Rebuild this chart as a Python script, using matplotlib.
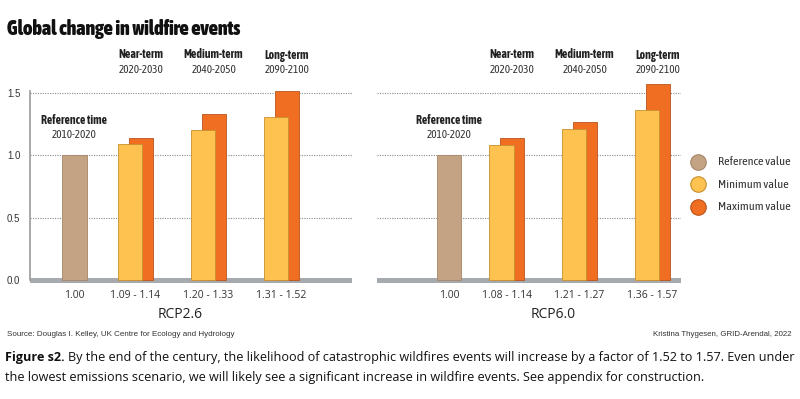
import matplotlib
matplotlib.use("Agg")
import matplotlib.pyplot as plt
from matplotlib import transforms

# ---- data ----
periods = ["Near-term", "Medium-term", "Long-term"]
period_years = ["2020-2030", "2040-2050", "2090-2100"]
ref_value = 1.00
rcp26_min = [1.09, 1.20, 1.31]
rcp26_max = [1.14, 1.33, 1.52]
rcp60_min = [1.08, 1.21, 1.36]
rcp60_max = [1.14, 1.27, 1.57]
scenarios = ["RCP2.6", "RCP6.0"]
yticks = [0.0, 0.5, 1.0, 1.5]
legend_labels = ["Reference value", "Minimum value", "Maximum value"]

C_REF = "#C4A385"
C_MIN = "#FDC250"
C_MAX = "#F06E22"
E_REF = "#A58668"
E_MIN = "#C8902E"
E_MAX = "#B9531B"
GRID = "#8A8A8A"
GROUND = "#A6AAAF"
TXT = "#333333"

NARROW = ["Asap Condensed", "Archivo Narrow", "DejaVu Sans"]
BODY = ["Open Sans", "DejaVu Sans"]
ARIAL = ["Liberation Sans", "DejaVu Sans"]

W, H = 800, 399
fig = plt.figure(figsize=(W / 100, H / 100), dpi=100)


def fx(x):
    return x / W


def fy(y):
    return 1 - y / H


# y mapping: 0 -> 280 px, 1.5 -> 93 px
per_px = 1.5 / (280 - 93)
ax_top, ax_bot = 80, 285
ylo = -(ax_bot - 280) * per_px
yhi = (280 - ax_top) * per_px

panels = [
    # left px, right px, xlim, ref x, mins, maxs
    (30, 352, (-0.445, 3.966), 0.164, rcp26_min, rcp26_max),
    (376.7, 681, (-0.78, 3.39), 0.21, rcp60_min, rcp60_max),
]

bw = 0.33
off = 0.07
groups = [1, 2, 3]

for i, (l, r, xl, xref, mins, maxs) in enumerate(panels):
    ax = fig.add_axes([fx(l), fy(ax_bot), (r - l) / W, (ax_bot - ax_top) / H])
    ax.set_xlim(*xl)
    ax.set_ylim(ylo, yhi)
    for s in ["top", "right", "bottom", "left"]:
        ax.spines[s].set_visible(False)
    ax.set_xticks([])
    if i == 0:
        ax.spines["left"].set_visible(True)
        ax.spines["left"].set_color("#9A9A9A")
        ax.spines["left"].set_linewidth(1.2)
        ax.spines["left"].set_bounds(0, 1.52)
        ax.set_yticks(yticks)
        ax.set_yticklabels([f"{v:.1f}" for v in yticks], fontsize=7,
                           color=TXT, family=ARIAL)
        ax.tick_params(axis="y", length=0, pad=7)
    else:
        ax.set_yticks([])

    for v in yticks[1:]:
        ax.axhline(v, color=GRID, lw=0.8, ls=(0, (1, 1.2)), zorder=1)
    ax.axhspan(-0.024, 0.02, color=GROUND, lw=0, zorder=2)

    ax.bar(xref, ref_value, width=bw, color=C_REF, edgecolor=E_REF,
           lw=0.6, zorder=3)
    ax.bar([g + off for g in groups], maxs, width=bw, color=C_MAX,
           edgecolor=E_MAX, lw=0.6, zorder=3)
    ax.bar([g - off for g in groups], mins, width=bw, color=C_MIN,
           edgecolor=E_MIN, lw=0.6, zorder=4)

    tr = transforms.blended_transform_factory(ax.transData, fig.transFigure)
    for g, p, yr in zip(groups, periods, period_years):
        ax.text(g + 0.07, fy(55), p, transform=tr, ha="center", va="center",
                fontsize=8.5, fontweight="bold", family=NARROW, color="#222222")
        ax.text(g + 0.07, fy(69.5), yr, transform=tr, ha="center",
                va="center", fontsize=8, family=NARROW, color=TXT)
    ax.text(xref, fy(120), "Reference time", transform=tr, ha="center",
            va="center", fontsize=8.5, fontweight="bold", family=NARROW,
            color="#222222")
    ax.text(xref, fy(134), "2010-2020", transform=tr, ha="center",
            va="center", fontsize=8, family=NARROW, color=TXT)

    ax.text(xref, fy(295), f"{ref_value:.2f}", transform=tr, ha="center",
            va="center", fontsize=7.5, family=BODY, color=TXT)
    for g, a, b in zip(groups, mins, maxs):
        ax.text(g, fy(295), f"{a:.2f} - {b:.2f}", transform=tr, ha="center",
                va="center", fontsize=7.5, family=BODY, color=TXT)
    ax.text((xref + groups[-1] + off) / 2, fy(315), scenarios[i],
            transform=tr, ha="center", va="center", fontsize=10,
            family=BODY, color="#222222")

    if i == 1:
        for k, (lab, c, e) in enumerate(zip(legend_labels,
                                            [C_REF, C_MIN, C_MAX],
                                            [E_REF, E_MIN, E_MAX])):
            yy = fy(161.7 + k * 22.5)
            ax.scatter([fx(697.7)], [yy], s=125, color=c, edgecolor=e,
                       lw=0.8, transform=fig.transFigure, clip_on=False,
                       zorder=5)
            fig.text(fx(718), yy, lab, ha="left", va="center", fontsize=8.8,
                     family=NARROW, color=TXT)

fig.text(fx(7), fy(29), "Global change in wildfire events", ha="left",
         va="center", fontsize=14.3, fontweight=900, family=NARROW,
         color="#111111")

fig.text(fx(7), fy(335), "Source: Douglas I. Kelley, UK Centre for Ecology and Hydrology",
         ha="left", va="center", fontsize=5.8, family=ARIAL, color=TXT)
fig.text(fx(792), fy(335), "Kristina Thygesen, GRID-Arendal, 2022",
         ha="right", va="center", fontsize=5.7, family=ARIAL, color=TXT)

cap1 = ("By the end of the century, the likelihood of catastrophic wildfires "
        "events will increase by a factor of 1.52 to 1.57. Even under")
cap2 = ("the lowest emissions scenario, we will likely see a significant "
        "increase in wildfire events. See appendix for construction.")
t = fig.text(fx(5), fy(358), "Figure s2.", ha="left", va="center",
             fontsize=9.1, fontweight="bold", family=BODY, color="#111111")
fig.canvas.draw()
bb = t.get_window_extent()
fig.text(bb.x1 / W + fx(3), fy(358), cap1, ha="left", va="center",
         fontsize=9.1, family=BODY, color="#111111")
fig.text(fx(5), fy(377), cap2, ha="left", va="center", fontsize=9.1,
         family=BODY, color="#111111")

fig.savefig("out.png", dpi=100)
